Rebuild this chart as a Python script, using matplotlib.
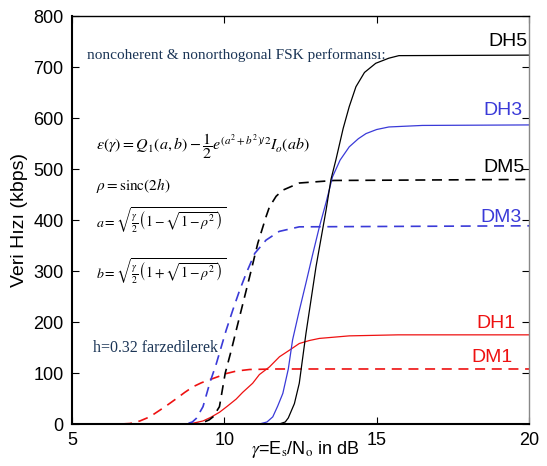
import numpy as np
import matplotlib
matplotlib.use('Agg')
import matplotlib.pyplot as plt

plt.rcParams['font.family'] = ['Liberation Sans', 'DejaVu Sans']
plt.rcParams['mathtext.fontset'] = 'stix'

# Değerler (gamma dB, veri hızı kbps)
dh5_x = [5, 11.8, 12.0, 12.1, 12.3, 12.46, 12.68, 13.01, 13.34, 13.5, 13.66, 13.9, 14.1, 14.32, 14.6, 14.97, 15.4, 15.73, 20]
dh5_y = [0, 0, 4, 12, 40, 80, 178, 309, 420, 480, 518, 580, 623, 662, 690, 708, 718, 723, 724]

dh3_x = [5, 11.15, 11.4, 11.59, 11.75, 11.92, 12.1, 12.24, 12.45, 12.68, 12.9, 13.12, 13.34, 13.55, 13.8, 14.1, 14.4, 14.65, 15.0, 15.4, 16.5, 20]
dh3_y = [0, 0, 4, 14, 35, 60, 108, 165, 220, 277, 333, 387, 435, 485, 518, 544, 560, 570, 578, 583, 586, 587]

dm5_x = [5, 9.08, 9.3, 9.5, 9.63, 9.84, 10.03, 10.23, 10.39, 10.83, 11.1, 11.37, 11.48, 11.7, 11.92, 12.46, 13.6, 20]
dm5_y = [0, 0, 3, 8, 14, 34, 100, 145, 184, 289, 355, 407, 426, 447, 459, 473, 478, 480]

dm3_x = [5, 8.75, 8.95, 9.08, 9.3, 9.52, 9.74, 10.06, 10.28, 10.5, 10.72, 11.0, 11.37, 11.8, 12.46, 20]
dm3_y = [0, 0, 4, 11, 34, 80, 119, 184, 224, 262, 296, 335, 361, 378, 387, 389]

dh1_x = [5, 8.7, 9.0, 9.3, 9.55, 9.84, 10.1, 10.39, 10.6, 10.93, 11.15, 11.48, 11.81, 12.14, 12.46, 12.8, 13.12, 14.1, 15.7, 20]
dh1_y = [0, 0, 2, 6, 13, 23, 35, 49, 62, 80, 97, 112, 132, 145, 158, 164, 168, 173, 175, 175]

dm1_x = [5, 6.6, 6.9, 7.23, 7.55, 7.88, 8.15, 8.43, 8.7, 8.97, 9.25, 9.52, 9.8, 10.06, 10.4, 10.83, 11.7, 20]
dm1_y = [0, 0, 1, 6, 14, 27, 38, 50, 62, 73, 81, 87, 93, 99, 104, 107, 108, 108]

etiketler = ['DH5', 'DH3', 'DM5', 'DM3', 'DH1', 'DM1']
etiket_y = [750, 615, 503, 405, 198, 130]

siyah = 'black'
mavi = '#3a3ad8'
kirmizi = '#ee1111'

fig = plt.figure(figsize=(5.47, 4.66), dpi=100)
ax = fig.add_axes([0.1316, 0.0901, 0.8355, 0.8747])

ax.plot(dh1_x, dh1_y, color=kirmizi, lw=0.9)
ax.plot(dm1_x, dm1_y, color=kirmizi, lw=1.2, dashes=(6, 4))
ax.plot(dm3_x, dm3_y, color=mavi, lw=1.2, dashes=(6, 4))
ax.plot(dm5_x, dm5_y, color=siyah, lw=1.2, dashes=(6, 4))
ax.plot(dh3_x, dh3_y, color=mavi, lw=0.9)
ax.plot(dh5_x, dh5_y, color=siyah, lw=0.9)

renkler = [siyah, mavi, siyah, mavi, kirmizi, kirmizi]
sag_x = [19.95, 19.8, 19.87, 19.75, 19.55, 19.45]
for et, yy, rr, xx in zip(etiketler, etiket_y, renkler, sag_x):
    ax.text(xx, yy, et, color=rr, fontsize=14, ha='right', va='center')

ax.set_xlim(5, 20)
ax.set_ylim(0, 800)
ax.set_xticks([5, 10, 15, 20])
ax.set_yticks(range(0, 801, 100))
ax.tick_params(direction='in', top=True, right=True, length=5, labelsize=13, pad=6)
for s in ax.spines.values():
    s.set_linewidth(1.0)
ax.spines['left'].set_linewidth(1.5)
ax.spines['bottom'].set_linewidth(1.5)
ax.spines['right'].set_color('#888888')

ax.set_ylabel('Veri Hızı (kbps)', fontsize=14, labelpad=4)
fig.text(0.459, 0.012, r'$\gamma$=E$_\mathrm{s}$/N$_\mathrm{o}$ in dB', fontsize=13, ha='left', va='bottom')

# Açıklama metinleri
lacivert = '#1b3556'
ax.text(5.5, 724, 'noncoherent & nonorthogonal FSK performansı:', family='Liberation Serif',
        fontsize=11, color=lacivert, va='center')
ax.text(5.8, 545, r'$\varepsilon(\gamma) = Q_1(a,b) - \dfrac{1}{2}e^{(a^2+b^2)/2}I_o(ab)$',
        fontsize=11.5, va='center')
ax.text(5.8, 468, r'$\rho = \mathrm{sinc}(2h)$', fontsize=11, va='center')
ax.text(5.8, 400, r'$a = \sqrt{\frac{\gamma}{2}\left(1-\sqrt{1-\rho^2}\right)}$', fontsize=10, va='center')
ax.text(5.8, 300, r'$b = \sqrt{\frac{\gamma}{2}\left(1+\sqrt{1-\rho^2}\right)}$', fontsize=10, va='center')
ax.text(5.7, 150, 'h=0.32 farzedilerek', family='Liberation Serif',
        fontsize=11.5, color=lacivert, va='center')

fig.savefig('out.png', dpi=100)
